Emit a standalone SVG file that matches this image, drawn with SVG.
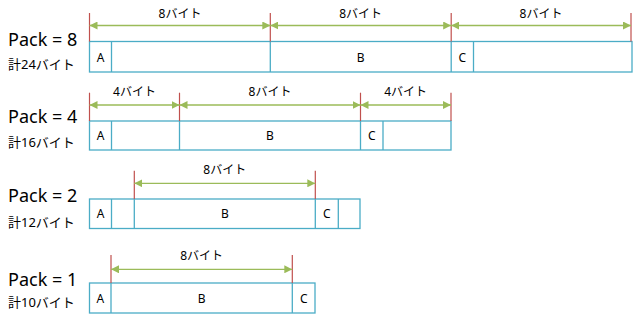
<svg xmlns="http://www.w3.org/2000/svg" width="640" height="320" viewBox="0 0 640 320">
<style>
.box{fill:#fff;stroke:#4bacc6;stroke-width:1.3}
.div{stroke:#4bacc6;stroke-width:1.3}
.tick{stroke:#c0504d;stroke-width:1.2}
.dim{stroke:#9bbb59;stroke-width:1.3;marker-start:url(#ah);marker-end:url(#ah)}
text{font-family:"Noto Sans","Noto Sans CJK JP",sans-serif;fill:#000}
.lbl{font-size:12px;text-anchor:middle}
.cell{font-size:12px;text-anchor:middle}
.pack{font-size:18px}
.tot{font-size:13px}
</style>
<defs>
<marker id="ah" viewBox="0 0 8 8" refX="8" refY="4" markerWidth="8" markerHeight="8" markerUnits="userSpaceOnUse" orient="auto-start-reverse">
<path d="M0,0 L8,4 L0,8 z" fill="#9bbb59"/>
</marker>
</defs>

<g id="row8">
<text class="pack" x="8" y="46">Pack = 8</text>
<text class="tot" x="8" y="68.5">計24バイト</text>
<rect class="box" x="89.5" y="41.5" width="542.5" height="30.5"/>
<line class="div" x1="111.5" y1="41.5" x2="111.5" y2="72"/>
<line class="div" x1="270.3" y1="41.5" x2="270.3" y2="72"/>
<line class="div" x1="451.2" y1="41.5" x2="451.2" y2="72"/>
<line class="div" x1="473.5" y1="41.5" x2="473.5" y2="72"/>
<text class="cell" x="100.5" y="61.5">A</text>
<text class="cell" x="360.7" y="61.5">B</text>
<text class="cell" x="462.3" y="61.5">C</text>
</g>

<g id="row4">
<text class="pack" x="8" y="123">Pack = 4</text>
<text class="tot" x="8" y="146.5">計16バイト</text>
<rect class="box" x="89.5" y="121" width="361.5" height="29"/>
<line class="div" x1="111.5" y1="121" x2="111.5" y2="150"/>
<line class="div" x1="179.5" y1="121" x2="179.5" y2="150"/>
<line class="div" x1="360.5" y1="121" x2="360.5" y2="150"/>
<line class="div" x1="383" y1="121" x2="383" y2="150"/>
<text class="cell" x="100.5" y="140">A</text>
<text class="cell" x="270" y="140">B</text>
<text class="cell" x="371.7" y="140">C</text>
</g>

<g id="row2">
<text class="pack" x="8" y="202">Pack = 2</text>
<text class="tot" x="8" y="226.5">計12バイト</text>
<rect class="box" x="89.5" y="199" width="270.5" height="29.5"/>
<line class="div" x1="111.5" y1="199" x2="111.5" y2="228.5"/>
<line class="div" x1="134.3" y1="199" x2="134.3" y2="228.5"/>
<line class="div" x1="315.3" y1="199" x2="315.3" y2="228.5"/>
<line class="div" x1="338.3" y1="199" x2="338.3" y2="228.5"/>
<text class="cell" x="100.5" y="218">A</text>
<text class="cell" x="224.8" y="218">B</text>
<text class="cell" x="326.8" y="218">C</text>
</g>

<g id="row1">
<text class="pack" x="8" y="286">Pack = 1</text>
<text class="tot" x="8" y="306.5">計10バイト</text>
<rect class="box" x="89.5" y="283" width="225.5" height="30"/>
<line class="div" x1="111" y1="283" x2="111" y2="313"/>
<line class="div" x1="292.3" y1="283" x2="292.3" y2="313"/>
<text class="cell" x="100.3" y="302.5">A</text>
<text class="cell" x="201.7" y="302.5">B</text>
<text class="cell" x="303.7" y="302.5">C</text>
</g>

<g id="connectors">
<line class="tick" x1="89.5" y1="13" x2="89.5" y2="41.5"/>
<line class="tick" x1="270.3" y1="13" x2="270.3" y2="41.5"/>
<line class="tick" x1="451.2" y1="13" x2="451.2" y2="41.5"/>
<line class="tick" x1="631" y1="13" x2="631" y2="41.5"/>
<line class="dim" x1="89.5" y1="25.5" x2="270.3" y2="25.5"/>
<line class="dim" x1="270.3" y1="25.5" x2="451.2" y2="25.5"/>
<line class="dim" x1="451.2" y1="25.5" x2="631" y2="25.5"/>
<text class="lbl" x="180" y="18">8バイト</text>
<text class="lbl" x="360.7" y="18">8バイト</text>
<text class="lbl" x="541" y="18">8バイト</text>

<line class="tick" x1="89.5" y1="92.7" x2="89.5" y2="121"/>
<line class="tick" x1="179.5" y1="92.7" x2="179.5" y2="121"/>
<line class="tick" x1="360.5" y1="92.7" x2="360.5" y2="121"/>
<line class="tick" x1="451" y1="92.7" x2="451" y2="121"/>
<line class="dim" x1="89.5" y1="105" x2="179.5" y2="105"/>
<line class="dim" x1="179.5" y1="105" x2="360.5" y2="105"/>
<line class="dim" x1="360.5" y1="105" x2="451" y2="105"/>
<text class="lbl" x="134.5" y="96">4バイト</text>
<text class="lbl" x="270" y="96">8バイト</text>
<text class="lbl" x="405.7" y="96">4バイト</text>

<line class="tick" x1="134.3" y1="170.7" x2="134.3" y2="199"/>
<line class="tick" x1="315.3" y1="170.7" x2="315.3" y2="199"/>
<line class="dim" x1="134.3" y1="183.3" x2="315.3" y2="183.3"/>
<text class="lbl" x="224.8" y="174">8バイト</text>

<line class="tick" x1="111" y1="255" x2="111" y2="283"/>
<line class="tick" x1="292.3" y1="255" x2="292.3" y2="283"/>
<line class="dim" x1="111" y1="269.3" x2="292.3" y2="269.3"/>
<text class="lbl" x="201.7" y="260">8バイト</text>
</g>
</svg>
